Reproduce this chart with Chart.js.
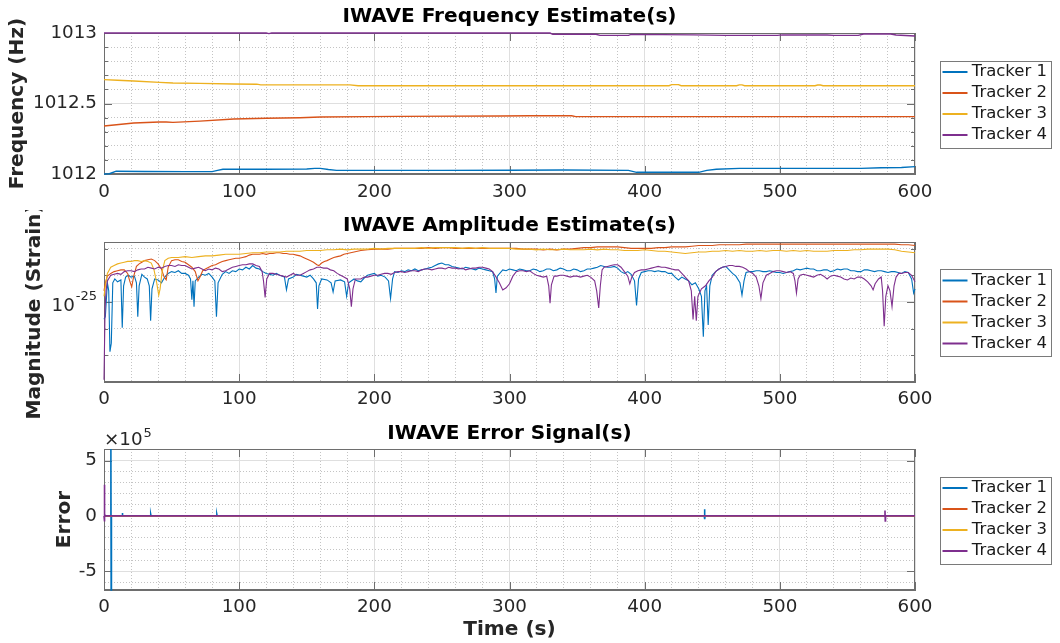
<!DOCTYPE html>
<html><head><meta charset="utf-8">
<script src="https://cdn.jsdelivr.net/npm/chart.js@4.4.1/dist/chart.umd.min.js"></script>
<style>
html,body{margin:0;padding:0;background:#fff;}
#wrap{position:relative;width:1060px;height:643px;overflow:hidden;background:#fff}
canvas{position:absolute;left:0;display:block}
</style></head><body>
<div id="wrap">
<canvas id="c1" width="1060" height="212" style="top:0"></canvas>
<canvas id="c2" width="1060" height="210" style="top:210px"></canvas>
<canvas id="c3" width="1060" height="223" style="top:420px"></canvas>
</div>
<script>
// ---------------- DATA ----------------
const trackerNames = ['Tracker 1', 'Tracker 2', 'Tracker 3', 'Tracker 4'];
const trackerColors = ['#0072BD', '#D95319', '#EDB120', '#7E2F8E'];

// x axis (Time, s)
const xGridTicks = [0,20,40,60,80,100,120,140,160,180,200,220,240,260,280,300,320,340,360,380,400,420,440,460,480,500,520,540,560,580,600];
const xLabelTicks = [0,100,200,300,400,500,600];

// Frequency estimates (Hz): time / value
const freqT1 = [0,4,9,30,60,80,84,88,120,150,156,160,166,172,200,250,300,340,388,394,440,446,453,470,500,560,575,590,600];
const freqV1 = [1012.000,1012.002,1012.020,1012.018,1012.017,1012.017,1012.026,1012.034,1012.034,1012.035,1012.040,1012.040,1012.032,1012.026,1012.026,1012.026,1012.027,1012.028,1012.026,1012.012,1012.012,1012.026,1012.034,1012.040,1012.040,1012.040,1012.044,1012.046,1012.052];
const freqT2 = [0,22,41,46,51,71,96,120,145,160,194,219,293,315,346,349,600];
const freqV2 = [1012.340,1012.362,1012.369,1012.369,1012.366,1012.375,1012.390,1012.395,1012.399,1012.404,1012.407,1012.409,1012.411,1012.413,1012.413,1012.407,1012.407];
const freqT3 = [0,10,22,41,51,71,96,113,116,182,188,418,420,425,427,468,470,472,474,526,528,530,532,600];
const freqV3 = [1012.669,1012.665,1012.660,1012.650,1012.645,1012.643,1012.638,1012.637,1012.632,1012.632,1012.626,1012.626,1012.634,1012.634,1012.626,1012.626,1012.632,1012.632,1012.626,1012.626,1012.631,1012.631,1012.626,1012.626];
const freqT4 = [0,120,122,124,200,330,332,364,367,388,390,436,460,498,502,535,540,558,562,582,586,600];
const freqV4 = [1013.000,1013.000,1012.996,1013.000,1013.000,1013.000,1012.991,1012.991,1012.983,1012.983,1012.990,1012.987,1012.983,1012.983,1012.987,1012.986,1012.983,1012.983,1012.993,1012.993,1012.986,1012.979];
const freqYTicks = [1012,1012.1,1012.2,1012.3,1012.4,1012.5,1012.6,1012.7,1012.8,1012.9,1013];
const freqYLabels = [1012,1012.5,1013];

// Amplitude estimates: [time s, strain in units of 1e-25]
const AMP_UNIT = 1e-25;
const amp1Pts = [[0,0.86],[1,0.88],[2.5,1.18],[3.5,1.10],[4.4,0.65],[5.4,0.70],[6.5,1.18],[8,1.22],[10,1.19],[12.5,1.21],[13.5,0.80],[14.5,1.15],[16,1.24],[18,1.26],[20,1.24],[22.5,1.25],[24,1.18],[25,0.88],[26,1.15],[28,1.27],[30,1.24],[32,1.22],[33.5,1.15],[34.5,0.85],[35.5,1.12],[37.5,1.22],[40,1.21],[42.5,1.18],[45,1.24],[47.5,1.28],[50,1.30],[52.5,1.29],[55,1.31],[57.5,1.28],[60,1.28],[62.5,1.26],[64,1.22],[65,1.02],[65.8,1.20],[66.6,0.96],[67.5,1.20],[70,1.24],[72.5,1.27],[75,1.26],[77.5,1.28],[80,1.24],[82,1.20],[83.2,0.88],[84.4,1.18],[87.5,1.27],[90,1.30],[92.5,1.28],[95,1.31],[97.5,1.30],[100,1.33],[102.5,1.32],[105,1.35],[107.5,1.33],[110,1.37],[112.5,1.34],[115,1.33],[117.5,1.30],[120,1.28],[122.5,1.27],[125,1.26],[127.5,1.28],[130,1.26],[133.5,1.24],[135,1.11],[136.5,1.22],[140,1.24],[142.5,1.27],[145,1.26],[147.5,1.25],[150,1.24],[152.5,1.26],[155,1.22],[157,1.18],[158,0.94],[159,1.15],[161,1.22],[165,1.21],[168,1.18],[169.5,1.09],[171,1.20],[175,1.21],[178,1.19],[179.5,1.05],[181,1.18],[185,1.22],[187.5,1.20],[190,1.19],[192.5,1.23],[195,1.26],[197.5,1.27],[200,1.28],[202.5,1.25],[205,1.26],[208,1.24],[210.5,1.20],[212,1.03],[213.5,1.22],[215,1.30],[217.5,1.29],[220,1.31],[222.5,1.30],[225,1.32],[227.5,1.31],[230,1.33],[232.5,1.31],[235,1.32],[237.5,1.33],[240,1.34],[242.5,1.35],[245,1.37],[247.5,1.39],[250,1.40],[252.5,1.38],[255,1.38],[257.5,1.36],[260,1.35],[262.5,1.34],[265,1.33],[267.5,1.35],[270,1.34],[272.5,1.33],[275,1.32],[277.5,1.34],[280,1.33],[282.5,1.32],[285,1.31],[287.5,1.30],[289,1.22],[290,1.08],[291,1.25],[295,1.32],[297.5,1.31],[300,1.33],[302.5,1.32],[305,1.31],[307.5,1.33],[310,1.32],[312.5,1.31],[315,1.31],[317.5,1.33],[320,1.32],[322.5,1.30],[325,1.31],[327.5,1.33],[330,1.33],[332.5,1.31],[335,1.32],[337.5,1.34],[340,1.33],[342.5,1.31],[345,1.31],[347.5,1.33],[350,1.32],[352.5,1.30],[355,1.31],[357.5,1.33],[360,1.33],[362.5,1.34],[365,1.35],[367.5,1.37],[370,1.36],[372.5,1.35],[375,1.35],[377.5,1.36],[380,1.34],[382.5,1.30],[385,1.28],[387.5,1.30],[390,1.27],[392.5,1.20],[394,0.97],[395.5,1.22],[397.5,1.29],[400,1.30],[402.5,1.31],[405,1.31],[407.5,1.30],[410,1.31],[412.5,1.30],[415,1.30],[417.5,1.28],[420,1.28],[422.5,1.24],[425,1.21],[427.5,1.24],[430,1.22],[432.5,1.20],[435,1.16],[437.5,1.18],[440,1.12],[442,1.05],[443.4,0.74],[444.6,1.10],[445.8,1.15],[447,0.82],[448.2,1.15],[450,1.26],[452.5,1.30],[455,1.33],[457.5,1.35],[460,1.36],[462.5,1.32],[465,1.28],[467.5,1.25],[470.5,1.18],[472,1.06],[473.5,1.20],[475,1.29],[477.5,1.30],[480,1.30],[482.5,1.31],[485,1.31],[487.5,1.30],[490,1.30],[492.5,1.31],[495,1.30],[497.5,1.29],[500,1.29],[502.5,1.28],[505,1.29],[507.5,1.30],[510,1.31],[512.5,1.33],[515,1.32],[517.5,1.33],[520,1.34],[522.5,1.33],[525,1.33],[527.5,1.31],[530,1.31],[532.5,1.32],[535,1.32],[537.5,1.30],[540,1.31],[542.5,1.33],[545,1.32],[547.5,1.33],[550,1.33],[552.5,1.31],[555,1.31],[557.5,1.30],[560,1.30],[562.5,1.32],[565,1.32],[567.5,1.31],[570,1.30],[572.5,1.31],[575,1.31],[577.5,1.30],[580,1.29],[582.5,1.30],[585,1.30],[587.5,1.29],[590,1.28],[592.5,1.30],[595,1.29],[597.5,1.22],[599,1.08],[600,1.12]];
const amp2Pts = [[0,1.10],[1,1.18],[2.5,1.25],[5,1.28],[7.5,1.30],[10,1.31],[12.5,1.32],[15,1.32],[17.5,1.28],[19,1.20],[20.5,1.14],[22,1.25],[24,1.36],[26,1.39],[28,1.41],[30,1.43],[32.5,1.44],[35,1.45],[37.5,1.43],[40,1.39],[42.5,1.33],[44.5,1.24],[46,1.21],[47.5,1.35],[50,1.43],[52.5,1.44],[55,1.44],[57.5,1.42],[60,1.41],[62.5,1.38],[65,1.35],[67.5,1.30],[69.5,1.20],[71,1.24],[73,1.31],[75,1.33],[77.5,1.35],[80,1.37],[82.5,1.38],[85,1.40],[87.5,1.42],[90,1.43],[92.5,1.44],[95,1.45],[97.5,1.46],[100,1.46],[102.5,1.47],[105,1.48],[107.5,1.50],[110,1.51],[112.5,1.51],[115,1.51],[117.5,1.52],[120,1.51],[122.5,1.52],[125,1.52],[127.5,1.53],[130,1.53],[132.5,1.52],[135,1.52],[137.5,1.51],[140,1.51],[142.5,1.50],[145,1.49],[147.5,1.47],[150,1.45],[152.5,1.43],[155,1.41],[157.5,1.38],[159,1.37],[161,1.40],[163,1.42],[165,1.43],[167.5,1.45],[170,1.47],[172.5,1.48],[175,1.49],[177.5,1.51],[180,1.52],[185,1.54],[190,1.56],[195,1.57],[200,1.58],[205,1.58],[210,1.58],[215,1.59],[220,1.59],[225,1.59],[230,1.59],[235,1.59],[240,1.60],[245,1.59],[250,1.60],[255,1.60],[260,1.59],[265,1.59],[270,1.59],[275,1.59],[280,1.59],[285,1.59],[290,1.59],[295,1.59],[300,1.59],[305,1.59],[310,1.58],[315,1.58],[320,1.58],[325,1.57],[330,1.58],[335,1.57],[340,1.58],[345,1.58],[350,1.59],[355,1.60],[360,1.60],[365,1.61],[370,1.61],[375,1.61],[380,1.61],[385,1.60],[390,1.59],[395,1.59],[400,1.59],[405,1.59],[410,1.60],[415,1.60],[420,1.61],[425,1.61],[430,1.61],[435,1.62],[440,1.63],[445,1.63],[450,1.63],[455,1.64],[460,1.64],[465,1.64],[470,1.64],[475,1.65],[480,1.65],[485,1.65],[490,1.65],[495,1.65],[500,1.65],[505,1.65],[510,1.65],[515,1.65],[520,1.65],[525,1.65],[530,1.65],[535,1.65],[540,1.65],[545,1.65],[550,1.65],[555,1.65],[560,1.65],[565,1.65],[570,1.65],[575,1.65],[580,1.65],[585,1.65],[590,1.64],[595,1.64],[600,1.63]];
const amp3Pts = [[0,1.05],[1,1.15],[2.5,1.28],[5,1.35],[7.5,1.37],[10,1.39],[12.5,1.40],[15,1.41],[17.5,1.42],[20,1.42],[22.5,1.43],[25,1.43],[27.5,1.42],[30,1.43],[32.5,1.42],[35,1.40],[37,1.32],[39,1.18],[40.5,1.06],[41.5,1.12],[43,1.30],[45,1.43],[47.5,1.46],[50,1.47],[55,1.47],[60,1.48],[65,1.47],[70,1.48],[75,1.49],[80,1.49],[85,1.50],[90,1.51],[95,1.51],[100,1.51],[105,1.52],[110,1.53],[115,1.53],[120,1.54],[125,1.54],[130,1.54],[135,1.55],[140,1.55],[145,1.55],[150,1.56],[155,1.56],[160,1.56],[165,1.57],[170,1.57],[175,1.58],[180,1.57],[185,1.58],[190,1.58],[195,1.58],[200,1.59],[205,1.58],[210,1.59],[215,1.59],[220,1.59],[225,1.59],[230,1.59],[235,1.60],[240,1.59],[245,1.60],[250,1.60],[255,1.60],[260,1.60],[265,1.59],[270,1.60],[275,1.59],[280,1.60],[285,1.59],[290,1.59],[295,1.59],[300,1.59],[305,1.58],[310,1.58],[315,1.58],[320,1.57],[325,1.58],[330,1.57],[335,1.57],[340,1.58],[345,1.57],[350,1.57],[355,1.57],[360,1.58],[365,1.57],[370,1.58],[375,1.57],[380,1.57],[385,1.56],[390,1.56],[395,1.56],[400,1.57],[405,1.56],[410,1.55],[415,1.55],[420,1.54],[425,1.53],[430,1.52],[435,1.53],[440,1.54],[445,1.54],[450,1.55],[455,1.55],[460,1.56],[465,1.55],[470,1.56],[475,1.55],[480,1.55],[485,1.56],[490,1.55],[495,1.56],[500,1.56],[505,1.55],[510,1.56],[515,1.55],[520,1.56],[525,1.55],[530,1.55],[535,1.55],[540,1.56],[545,1.56],[550,1.56],[555,1.57],[560,1.57],[565,1.58],[570,1.58],[575,1.58],[580,1.58],[585,1.57],[590,1.55],[595,1.54],[600,1.53]];
const amp4Pts = [[0,0.51],[0.8,0.95],[1.5,1.10],[2.5,1.20],[5,1.26],[7.5,1.27],[10,1.28],[12.5,1.27],[15,1.30],[17.5,1.31],[20,1.31],[22.5,1.30],[25,1.32],[27.5,1.33],[30,1.33],[32.5,1.35],[35,1.34],[37.5,1.33],[40,1.35],[42.5,1.34],[45,1.36],[47.5,1.37],[50,1.37],[52.5,1.36],[55,1.38],[57.5,1.37],[60,1.37],[62.5,1.35],[65,1.33],[67.5,1.34],[70,1.35],[72.5,1.33],[75,1.31],[77.5,1.33],[80,1.32],[82.5,1.34],[85,1.33],[87.5,1.30],[90,1.31],[92.5,1.33],[95,1.35],[97.5,1.36],[100,1.37],[102.5,1.38],[105,1.38],[107.5,1.39],[110,1.39],[112.5,1.37],[115,1.36],[117,1.30],[118,1.20],[119.2,1.04],[120.4,1.22],[122.5,1.28],[125,1.28],[127.5,1.27],[130,1.26],[132.5,1.25],[135,1.24],[137.5,1.26],[140,1.28],[142.5,1.26],[145,1.26],[147.5,1.28],[150,1.30],[152.5,1.32],[155,1.33],[157.5,1.35],[160,1.35],[162.5,1.34],[165,1.34],[167.5,1.32],[170,1.31],[172.5,1.28],[175,1.26],[177.5,1.24],[180,1.22],[181.8,1.12],[183,0.96],[184.2,1.12],[186,1.22],[190,1.22],[192.5,1.24],[195,1.24],[197.5,1.25],[200,1.26],[202.5,1.26],[205,1.27],[207.5,1.28],[210,1.28],[212.5,1.27],[215,1.29],[217.5,1.30],[220,1.30],[222.5,1.29],[225,1.30],[227.5,1.31],[230,1.31],[232.5,1.30],[235,1.32],[237.5,1.33],[240,1.33],[242.5,1.32],[245,1.33],[247.5,1.34],[250,1.34],[252.5,1.33],[255,1.35],[257.5,1.34],[260,1.34],[262.5,1.33],[265,1.34],[267.5,1.32],[270,1.33],[272.5,1.34],[275,1.34],[277.5,1.35],[280,1.35],[282.5,1.34],[285,1.33],[287.5,1.30],[290,1.24],[292.5,1.18],[295,1.11],[297.5,1.13],[300,1.17],[302.5,1.25],[305,1.30],[307.5,1.31],[310,1.31],[312.5,1.30],[315,1.31],[317.5,1.28],[320,1.26],[322.5,1.25],[325,1.24],[327.5,1.25],[329,1.15],[330,0.99],[331,1.16],[333,1.25],[335,1.25],[337.5,1.26],[340,1.26],[342.5,1.25],[345,1.24],[347.5,1.25],[350,1.25],[352.5,1.24],[355,1.25],[357.5,1.26],[360,1.24],[363,1.20],[364.5,1.10],[366,0.95],[367.2,1.15],[368.5,1.32],[370,1.35],[372.5,1.36],[375,1.37],[377.5,1.38],[380,1.38],[382.5,1.35],[385,1.30],[387.5,1.25],[389,1.17],[390.5,1.24],[392.5,1.29],[395,1.31],[397.5,1.32],[400,1.32],[402.5,1.33],[405,1.34],[407.5,1.35],[410,1.36],[412.5,1.35],[415,1.35],[417.5,1.34],[420,1.33],[422.5,1.32],[425,1.32],[427.5,1.28],[430,1.24],[432.5,1.20],[434.5,1.10],[435.8,0.86],[437,1.05],[438.2,0.85],[439.4,1.05],[442,1.12],[445,1.15],[447.5,1.20],[450,1.24],[452.5,1.30],[455,1.33],[457.5,1.35],[460,1.36],[462.5,1.37],[465,1.37],[467.5,1.36],[470,1.36],[472.5,1.35],[475,1.33],[477.5,1.30],[480,1.28],[482.5,1.24],[484.5,1.15],[486,1.03],[487.5,1.18],[490,1.26],[492.5,1.28],[495,1.30],[497.5,1.31],[500,1.31],[502.5,1.30],[505,1.29],[507.5,1.30],[510,1.28],[511.2,1.20],[512.3,1.08],[513.5,1.22],[515,1.26],[517.5,1.27],[520,1.26],[522.5,1.25],[525,1.24],[527.5,1.26],[530,1.27],[532.5,1.25],[535,1.22],[537.5,1.25],[540,1.26],[542.5,1.25],[545,1.24],[547.5,1.22],[550,1.21],[552.5,1.23],[555,1.22],[557.5,1.24],[560,1.24],[562.5,1.22],[565,1.19],[567.5,1.15],[569,1.11],[570.5,1.17],[573,1.22],[575,1.24],[576,1.10],[577.2,0.81],[578.4,1.05],[580,1.15],[581.5,1.10],[583,0.96],[584.5,1.15],[586,1.24],[588,1.28],[590,1.28],[592.5,1.29],[595,1.29],[597.5,1.26],[600,1.19]];
const ampYTicks = [6.3096e-26, 7.9433e-26, 1e-25, 1.2589e-25, 1.5849e-25];
const ampYMajor = [1e-25];
const ampYBase = '10', ampYExp = '-25';
const ampMin = 5.03e-26, ampMax = 1.68e-25;

// Error signals: time / value
const errT1 = [0,4.9,5.1,5.3,5.5,13.4,13.6,13.8,34.4,34.6,34.8,83.3,83.5,83.7,444.1,444.3,444.5,444.7,600];
const errV1 = [0,0,604000,-670000,0,0,25000,0,0,12000,0,0,12000,0,0,60000,-30000,0,0];
const errT2 = [0,600];
const errV2 = [0,0];
const errT3 = [0,600];
const errV3 = [0,0];
const errT4 = [0,0.2,0.4,0.6,0.8,438.2,438.4,438.6,577.6,577.8,578.0,578.2,600];
const errV4 = [0,280000,-50000,20000,0,0,5000,0,0,48000,-45000,0,0];
const errYTicks = [-600000,-500000,-400000,-300000,-200000,-100000,0,100000,200000,300000,400000,500000,600000];
const errYMajor = [-500000,0,500000];
const errYLabels = ['-5','0','5'];
const errMin = -670000, errMax = 604000;

// ---------------- STYLE / LAYOUT ----------------
const FONT = "'DejaVu Sans', 'Liberation Sans', sans-serif";
const TICK_SIZE = 18.3, LABEL_SIZE = 20.1, LEGEND_SIZE = 16.5, EXP_SIZE = 13;
Chart.defaults.font.family = FONT;
Chart.defaults.font.size = TICK_SIZE;
Chart.defaults.color = '#262626';
const AXIS = '#6e6e6e';
const MAJOR_GRID = '#dfdfdf';
const MINOR_GRID = '#c4c4c4';
const PLOT_LEFT = 104;
const LEGEND_W = 109, PAD_R = 13, GAP = 23;
const TITLE_FONT = { size: LABEL_SIZE, weight: 'bold', family: FONT };

function isIn(list, v) { return list.some(x => Math.abs(x - v) <= Math.max(Math.abs(x), Math.abs(v)) * 1e-6); }
function gridColor(majors) { return c => (!c.tick || isIn(majors, c.tick.value)) ? MAJOR_GRID : MINOR_GRID; }
function gridDash(majors) { return c => (c.tick && !isIn(majors, c.tick.value)) ? [1, 2] : []; }

const boxPlugin = {
  id: 'matBox',
  beforeDatasetsDraw(chart) {
    const { ctx, chartArea: a, scales } = chart;
    const cfg = chart.options.plugins.matBox || {};
    ctx.save();
    ctx.strokeStyle = AXIS; ctx.lineWidth = 1;
    ctx.strokeRect(Math.round(a.left) + 0.5, Math.round(a.top) + 0.5, Math.round(a.right - a.left) - 1, Math.round(a.bottom - a.top) - 1);
    ctx.beginPath();
    (cfg.xMajor || []).forEach(v => {
      const x = Math.round(scales.x.getPixelForValue(v)) + 0.5;
      ctx.moveTo(x, a.bottom); ctx.lineTo(x, a.bottom - cfg.len);
      ctx.moveTo(x, a.top); ctx.lineTo(x, a.top + cfg.len);
    });
    (cfg.yMajor || []).forEach(v => {
      const y = Math.round(scales.y.getPixelForValue(v)) + 0.5;
      ctx.moveTo(a.left, y); ctx.lineTo(a.left + cfg.len, y);
      ctx.moveTo(a.right, y); ctx.lineTo(a.right - cfg.len, y);
    });
    (cfg.yMinor || []).forEach(v => {
      const y = Math.round(scales.y.getPixelForValue(v)) + 0.5;
      ctx.moveTo(a.left, y); ctx.lineTo(a.left + cfg.minorLen, y);
      ctx.moveTo(a.right, y); ctx.lineTo(a.right - cfg.minorLen, y);
    });
    ctx.stroke();
    ctx.restore();
  },
  afterDraw(chart) {
    const L = chart.legend;
    if (!L || !L.legendHitBoxes || !L.legendHitBoxes.length) return;
    const hb = L.legendHitBoxes;
    const top = hb[0].top - 3, bottom = hb[hb.length - 1].top + hb[hb.length - 1].height + 4;
    const left = L.left + 2, right = L.right + 4;
    const ctx = chart.ctx;
    ctx.save();
    ctx.strokeStyle = '#7a7a7a'; ctx.lineWidth = 1;
    ctx.strokeRect(Math.round(left) + 0.5, Math.round(top) + 0.5, Math.round(right - left), Math.round(bottom - top));
    ctx.restore();
  }
};

function xScale(pad, title) {
  return {
    type: 'linear', min: 0, max: 600,
    afterBuildTicks: s => { s.ticks = xGridTicks.map(v => ({ value: v })); },
    ticks: { autoSkip: false, maxRotation: 0, padding: pad, color: '#262626', font: { size: TICK_SIZE },
      callback: v => isIn(xLabelTicks, v) ? String(v) : '' },
    grid: { drawTicks: false, color: gridColor(xLabelTicks), lineWidth: 1 },
    border: { display: true, color: AXIS, width: 1, dash: gridDash(xLabelTicks) },
    title: title || { display: false }
  };
}
function gapScale() {
  return { position: 'right', display: true, grid: { display: false, drawTicks: false },
    border: { display: false }, ticks: { display: false },
    afterFit: s => { s.width = GAP; } };
}
function legendOpts() {
  return {
    display: true, position: 'right', align: 'center', fullSize: false, maxWidth: LEGEND_W,
    labels: { usePointStyle: true, pointStyle: 'line', pointStyleWidth: 25, padding: 4.5,
      textAlign: 'right', color: '#1a1a1a', font: { size: LEGEND_SIZE },
      sort: (a, b) => a.datasetIndex - b.datasetIndex }
  };
}
function titleOpts(text, pt, pb) {
  return { display: true, text, color: '#000', font: TITLE_FONT, fullSize: false, padding: { top: pt, bottom: pb } };
}
function lineSet(i, points, width) {
  return {
    label: trackerNames[i], data: points,
    borderColor: trackerColors[i], backgroundColor: trackerColors[i],
    borderWidth: width, pointRadius: 0, pointHoverRadius: 0, pointBorderWidth: 2,
    fill: false, tension: 0, order: 4 - i, clip: 3
  };
}
function fromTV(T, V) { return T.map((t, k) => ({ x: t, y: V[k] })); }
function fromPairs(P, unit) { return P.map(p => ({ x: p[0], y: p[1] * unit })); }
function baseOptions() {
  return { responsive: false, animation: false, events: [],
    layout: { padding: { left: 0, right: PAD_R, top: 0, bottom: 0 } } };
}

// ---------------- CHART 1: Frequency ----------------
{
  const o = baseOptions();
  o.layout.padding.bottom = 1.04;
  o.plugins = { legend: legendOpts(), title: titleOpts('IWAVE Frequency Estimate(s)', 4.94, 3.94), tooltip: { enabled: false },
    matBox: { xMajor: xLabelTicks, yMajor: freqYLabels, yMinor: freqYTicks.filter(v => !isIn(freqYLabels, v)), len: 8, minorLen: 4 } };
  o.scales = {
    x: xScale(7.5),
    y: { type: 'linear', min: 1012, max: 1013,
      afterBuildTicks: s => { s.ticks = freqYTicks.map(v => ({ value: v })); },
      afterFit: s => { s.width = PLOT_LEFT; },
      ticks: { autoSkip: false, padding: 7, color: '#262626', font: { size: TICK_SIZE },
        callback: v => isIn(freqYLabels, v) ? String(v) : '' },
      grid: { drawTicks: false, color: gridColor(freqYLabels) },
      border: { display: true, color: AXIS, dash: gridDash(freqYLabels) },
      title: { display: true, text: 'Frequency (Hz)', color: '#262626', font: TITLE_FONT, padding: { top: 5.94, bottom: 0 } } },
    gap: gapScale()
  };
  const sets = [[freqT1, freqV1], [freqT2, freqV2], [freqT3, freqV3], [freqT4, freqV4]]
    .map((tv, i) => lineSet(i, fromTV(tv[0], tv[1]), 1.4));
  new Chart(document.getElementById('c1'), { type: 'line', data: { datasets: sets }, options: o, plugins: [boxPlugin] });
}

// ---------------- CHART 2: Amplitude ----------------
{
  const logLabelPlugin = {
    id: 'logLabel',
    afterDraw(chart) {
      const { ctx, chartArea: a, scales } = chart;
      const y = scales.y.getPixelForValue(ampYMajor[0]);
      ctx.save();
      ctx.fillStyle = '#262626'; ctx.textBaseline = 'alphabetic'; ctx.textAlign = 'left';
      ctx.font = EXP_SIZE + 'px ' + FONT;
      const we = ctx.measureText(ampYExp).width;
      ctx.font = TICK_SIZE + 'px ' + FONT;
      const wb = ctx.measureText(ampYBase).width;
      const right = a.left - 7;
      ctx.fillText(ampYBase, right - we - wb - 1, y + 9.5);
      ctx.font = EXP_SIZE + 'px ' + FONT;
      ctx.fillText(ampYExp, right - we, y - 1.5);
      ctx.restore();
    }
  };
  const o = baseOptions();
  o.layout.padding.bottom = 3.6;
  o.plugins = { legend: legendOpts(), title: titleOpts('IWAVE Amplitude Estimate(s)', 3.74, 4.14), tooltip: { enabled: false },
    matBox: { xMajor: xLabelTicks, yMajor: ampYMajor, yMinor: ampYTicks.filter(v => !isIn(ampYMajor, v)), len: 8, minorLen: 4 } };
  o.scales = {
    x: xScale(6.22),
    y: { type: 'logarithmic', min: ampMin, max: ampMax,
      afterBuildTicks: s => { s.ticks = ampYTicks.map(v => ({ value: v })); },
      afterFit: s => { s.width = PLOT_LEFT; },
      ticks: { autoSkip: false, padding: 7, color: '#262626', font: { size: TICK_SIZE }, callback: () => '' },
      grid: { drawTicks: false, color: gridColor(ampYMajor) },
      border: { display: true, color: AXIS, dash: gridDash(ampYMajor) },
      title: { display: true, text: 'Magnitude (Strain)', color: '#262626', font: TITLE_FONT, padding: { top: 22.94, bottom: 0 } } },
    gap: gapScale()
  };
  const sets = [amp1Pts, amp2Pts, amp3Pts, amp4Pts].map((p, i) => lineSet(i, fromPairs(p, AMP_UNIT), 1.1));
  new Chart(document.getElementById('c2'), { type: 'line', data: { datasets: sets }, options: o, plugins: [boxPlugin, logLabelPlugin] });
}

// ---------------- CHART 3: Error ----------------
{
  const expPlugin = {
    id: 'expLabel',
    afterDraw(chart) {
      const { ctx, chartArea: a } = chart;
      ctx.save();
      ctx.fillStyle = '#262626'; ctx.textBaseline = 'alphabetic'; ctx.textAlign = 'left';
      ctx.font = TICK_SIZE + 'px ' + FONT;
      const base = '\u00D710';
      ctx.fillText(base, a.left, a.top - 4);
      const w = ctx.measureText(base).width;
      ctx.font = EXP_SIZE + 'px ' + FONT;
      ctx.fillText('5', a.left + w + 1, a.top - 12);
      ctx.restore();
    }
  };
  const o = baseOptions();
  o.layout.padding.bottom = 0;
  o.plugins = { legend: legendOpts(), title: titleOpts('IWAVE Error Signal(s)', 1.64, 3.24), tooltip: { enabled: false },
    matBox: { xMajor: xLabelTicks, yMajor: errYMajor, yMinor: [], len: 8, minorLen: 4 } };
  o.scales = {
    x: xScale(6.52, { display: true, text: 'Time (s)', color: '#262626', font: TITLE_FONT, padding: { top: -7.56, bottom: 1.44 } }),
    y: { type: 'linear', min: errMin, max: errMax,
      afterBuildTicks: s => { s.ticks = errYTicks.map(v => ({ value: v })); },
      afterFit: s => { s.width = PLOT_LEFT; },
      ticks: { autoSkip: false, padding: 7, color: '#262626', font: { size: TICK_SIZE },
        callback: v => { const k = errYMajor.findIndex(m => isIn([m], v)); return k >= 0 ? errYLabels[k] : ''; } },
      grid: { drawTicks: false, color: gridColor(errYMajor) },
      border: { display: true, color: AXIS, dash: gridDash(errYMajor) },
      title: { display: true, text: 'Error', color: '#262626', font: TITLE_FONT, padding: { top: 52.94, bottom: 0 } } },
    gap: gapScale()
  };
  const sets = [[errT1, errV1], [errT2, errV2], [errT3, errV3], [errT4, errV4]]
    .map((tv, i) => lineSet(i, fromTV(tv[0], tv[1]), 1.6));
  new Chart(document.getElementById('c3'), { type: 'line', data: { datasets: sets }, options: o, plugins: [boxPlugin, expPlugin] });
}
</script>
</body></html>
